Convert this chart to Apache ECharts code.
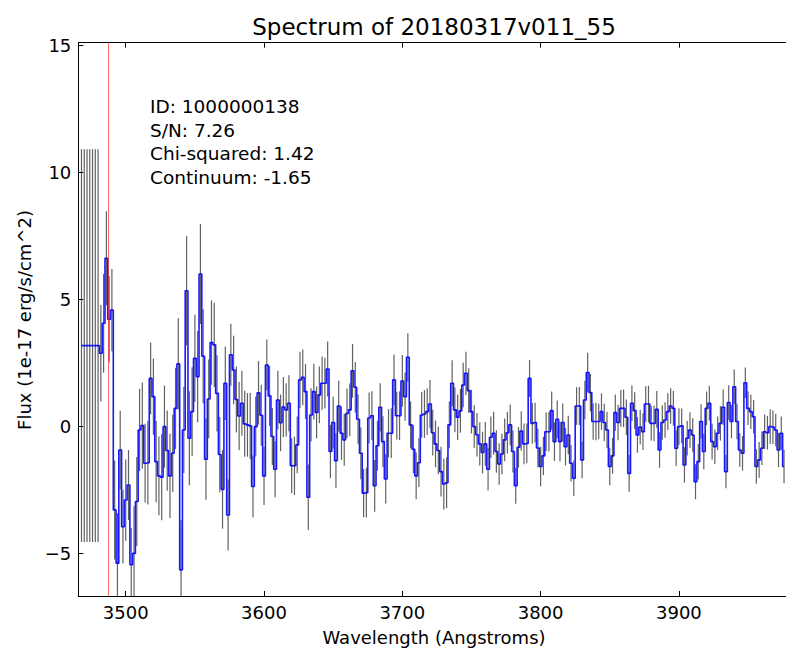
<!DOCTYPE html>
<html>
<head>
<meta charset="utf-8">
<title>Spectrum of 20180317v011_55</title>
<script src="https://cdn.jsdelivr.net/npm/echarts@6/dist/echarts.min.js"></script>
<style>
  html, body { margin: 0; padding: 0; background: #ffffff; }
  #chart { width: 786px; height: 652px; }
</style>
</head>
<body>
<div id="chart"></div>
<script>
// Wavelength grid of the extracted spectrum (Angstroms)
const WAVE_START = 3468;
const WAVE_STEP = 2;

// Flux density per bin (1e-17 erg/s/cm^2), rows of ten bins, first bin of each row noted
const flux = [
  /* 3468 */ 3.19, 3.19, 3.19, 3.19, 3.19, 3.19, 3.19, 2.89, 4.07, 6.63,
  /* 3488 */ 4.23, 4.59, -3.28, -5.38, -0.92, -3.94, -2.89, -2.30, -5.44, -4.99,
  /* 3508 */ -2.95, -0.13, 0.04, -1.44, -1.42, 1.90, 1.18, -1.38, -1.94, -1.99,
  /* 3528 */ 0.00, -0.94, -1.94, -1.05, 0.72, 2.47, -5.64, -0.13, 5.35, -0.46,
  /* 3548 */ 0.59, 2.69, 1.97, 6.01, 2.77, -1.28, 1.09, 3.31, 3.22, 1.31,
  /* 3568 */ -1.10, -2.47, 1.71, -3.48, 2.83, 2.23, 1.07, 0.42, 0.92, 0.11,
  /* 3588 */ 0.07, 0.03, -2.36, 0.00, 1.33, 0.45, -1.94, 2.43, 1.21, -0.39,
  /* 3608 */ -1.68, 1.05, 0.15, 0.77, 0.66, 0.92, -1.54, -1.54, -0.72, 1.84,
  /* 3628 */ 1.94, 1.38, -2.78, 0.46, 1.38, 0.56, 1.25, 1.71, 1.71, 2.27,
  /* 3648 */ -0.98, 0.16, -1.34, 0.81, -0.26, -0.52, 0.52, 0.66, 2.20, 1.55,
  /* 3668 */ 0.29, -1.05, -2.62, -2.60, 0.34, 0.43, -2.33, -0.75, 0.76, -0.59,
  /* 3688 */ -2.06, -0.26, -0.26, 1.84, 0.43, 0.43, 1.80, 1.18, 2.73, 0.07,
  /* 3708 */ -0.89, -1.94, -1.42, 0.46, 0.50, 0.59, 0.89, -0.24, -0.68, -0.94,
  /* 3728 */ -1.77, -2.26, -2.21, 0.07, 1.71, 0.66, 0.37, 0.62, 1.64, 2.10,
  /* 3748 */ 1.42, 0.59, 0.00, -0.32, -0.68, -1.02, -0.68, -1.68, -0.42, -0.26,
  /* 3768 */ -0.98, -1.47, -1.08, -0.52, -0.24, 0.07, -0.98, -2.33, -0.81, -0.17,
  /* 3788 */ -0.68, -0.66, 1.90, 0.13, 0.16, -0.84, -1.57, -1.15, -0.20, -0.20,
  /* 3808 */ 0.63, -0.59, 0.29, -0.59, 0.16, -0.79, -0.33, -1.44, -2.03, 0.81,
  /* 3828 */ 0.81, -1.31, 1.05, 2.13, 1.34, 0.20, 0.20, 0.20, 0.59, 0.16,
  /* 3848 */ -0.13, -1.57, -1.15, 0.55, 0.16, 0.72, 0.72, 0.37, -1.84, 0.92,
  /* 3868 */ 0.63, -0.33, -0.02, -0.20, 0.89, 0.89, 0.13, 0.13, 0.68, -0.92,
  /* 3888 */ 0.16, 0.26, 0.59, 0.81, 0.72, -0.85, 0.00, 0.03, -1.51, -0.46,
  /* 3908 */ -0.13, -0.33, -2.17, -1.38, 0.20, -0.98, 0.72, 0.92, -0.59, -0.79,
  /* 3928 */ -0.26, 0.13, 0.76, -1.77, 0.95, 0.20, 1.57, 0.20, -0.92, -1.05,
  /* 3948 */ 1.73, 0.72, 0.59, 0.39, -1.57, -1.31, -0.85, -0.20, -0.24, 0.00,
  /* 3968 */ -0.02, -0.13, -0.92, -0.26, -1.57
];

// One-sigma flux uncertainty per bin, same layout as flux
const fluxErr = [
  /* 3468 */ 7.73, 7.73, 7.73, 7.73, 7.73, 7.73, 7.73, 1.90, 1.95, 1.85,
  /* 3488 */ 1.70, 1.62, 1.95, 1.97, 1.55, 1.45, 1.60, 1.38, 1.45, 1.85,
  /* 3508 */ 1.75, 1.62, 1.70, 1.55, 1.65, 1.41, 1.50, 1.60, 1.55, 1.70,
  /* 3528 */ 1.62, 1.58, 1.66, 1.52, 1.60, 1.80, 1.95, 1.70, 2.15, 1.85,
  /* 3548 */ 1.75, 1.72, 1.80, 1.97, 1.85, 1.60, 1.55, 1.66, 1.66, 1.50,
  /* 3568 */ 1.48, 1.55, 1.45, 1.40, 1.22, 1.35, 1.30, 1.35, 1.28, 1.30,
  /* 3588 */ 1.25, 1.30, 1.22, 1.18, 1.25, 1.20, 1.15, 1.00, 1.18, 1.12,
  /* 3608 */ 1.10, 1.15, 1.12, 1.18, 1.05, 1.10, 1.08, 1.15, 1.12, 1.11,
  /* 3628 */ 1.10, 1.08, 1.29, 1.05, 1.10, 1.02, 1.12, 1.05, 1.00, 1.08,
  /* 3648 */ 1.05, 1.02, 1.08, 1.00, 1.05, 1.02, 0.98, 1.04, 1.06, 1.00,
  /* 3668 */ 0.98, 1.02, 0.95, 0.98, 1.00, 0.96, 1.02, 0.98, 0.95, 1.00,
  /* 3688 */ 0.97, 0.95, 0.98, 1.00, 0.94, 0.96, 1.02, 0.95, 0.95, 0.92,
  /* 3708 */ 0.95, 0.92, 0.96, 0.90, 0.94, 0.92, 0.95, 0.90, 0.92, 0.94,
  /* 3728 */ 0.98, 1.00, 1.00, 0.92, 0.90, 0.88, 0.90, 0.86, 0.88, 0.85,
  /* 3748 */ 0.88, 0.86, 0.84, 0.86, 0.85, 0.82, 0.86, 0.84, 0.82, 0.85,
  /* 3768 */ 0.84, 0.82, 0.80, 0.84, 0.82, 0.80, 0.83, 0.71, 0.80, 0.78,
  /* 3788 */ 0.80, 0.78, 0.73, 0.80, 0.78, 0.76, 0.78, 0.75, 0.76, 0.78,
  /* 3808 */ 0.75, 0.76, 0.74, 0.78, 0.75, 0.74, 0.76, 0.72, 0.70, 0.74,
  /* 3828 */ 0.75, 0.72, 0.76, 0.78, 0.74, 0.72, 0.74, 0.70, 0.72, 0.74,
  /* 3848 */ 0.72, 0.74, 0.70, 0.72, 0.70, 0.72, 0.74, 0.70, 0.72, 0.70,
  /* 3868 */ 0.72, 0.70, 0.68, 0.72, 0.70, 0.72, 0.68, 0.70, 0.72, 0.70,
  /* 3888 */ 0.68, 0.70, 0.72, 0.70, 0.68, 0.70, 0.72, 0.68, 0.70, 0.68,
  /* 3908 */ 0.70, 0.66, 0.69, 0.70, 0.68, 0.70, 0.66, 0.68, 0.70, 0.68,
  /* 3928 */ 0.66, 0.68, 0.70, 0.66, 0.68, 0.66, 0.68, 0.70, 0.66, 0.68,
  /* 3948 */ 0.60, 0.66, 0.68, 0.66, 0.68, 0.70, 0.66, 0.68, 0.66, 0.68,
  /* 3968 */ 0.66, 0.64, 0.68, 0.66, 0.66
];

// Detected line wavelength, marked with a vertical line
const lineWave = 3487.7;

// Axis ranges and tick values
const xRange = [3465.7, 3979.6];
const yRange = [-6.67, 15.12];
const xTicks = [3500, 3600, 3700, 3800, 3900];
const yTicks = [-5, 0, 5, 10, 15];

// Text block with the fit summary
const infoLines = [
  'ID: 1000000138',
  'S/N: 7.26',
  'Chi-squared: 1.42',
  'Continuum: -1.65'
];

const titleText = 'Spectrum of 20180317v011_55';
const xName = 'Wavelength (Angstroms)';
const yName = 'Flux (1e-17 erg/s/cm^2)';

// ---- build series data ----
const stepData = flux.map((f, i) => [WAVE_START + WAVE_STEP * i, f]);
const errData = flux.map((f, i) => [WAVE_START + WAVE_STEP * i, f - fluxErr[i], f + fluxErr[i]]);

const FONT = '"DejaVu Sans", "Liberation Sans", sans-serif';
// The plot frame runs past the right edge of the canvas, so only left/top/bottom spines show
const grid = { left: 78.3, top: 42.7, width: 710.7, height: 553.3, outerBoundsMode: 'none', containLabel: false };
const minusSign = v => String(v).replace('-', '\u2212');

function axisCommon(ticks, showLabel, margin) {
  return {
    axisLine: { show: true, onZero: false, lineStyle: { color: '#000', width: 1 } },
    axisTick: { show: true, inside: true, length: 5, customValues: ticks,
                lineStyle: { color: '#000', width: 1 } },
    axisLabel: { show: showLabel, customValues: ticks, color: '#000', fontSize: 18,
                 fontFamily: FONT, margin: margin, formatter: minusSign },
    splitLine: { show: false }
  };
}

const chart = echarts.init(document.getElementById('chart'), null, { renderer: 'svg' });

const infoGraphics = infoLines.map((t, k) => ({
  type: 'text', x: 150, y: 106.3 + 23.7 * k, silent: true,
  style: { text: t, fill: '#000', fontSize: 18.5, fontFamily: FONT,
           align: 'left', textAlign: 'left', verticalAlign: 'middle', textVerticalAlign: 'middle' }
}));

chart.setOption({
  backgroundColor: '#ffffff',
  animation: false,
  grid: grid,
  xAxis: [
    Object.assign({ type: 'value', position: 'bottom', min: xRange[0], max: xRange[1] },
                  axisCommon(xTicks, true, 7)),
    Object.assign({ type: 'value', position: 'top', min: xRange[0], max: xRange[1] },
                  axisCommon(xTicks, false, 7))
  ],
  yAxis: [
    Object.assign({ type: 'value', position: 'left', min: yRange[0], max: yRange[1] },
                  axisCommon(yTicks, true, 7))
  ],
  graphic: [
    { type: 'text', x: 434, y: 27, silent: true,
      style: { text: titleText, fill: '#000', fontSize: 23, fontFamily: FONT,
               align: 'center', textAlign: 'center', verticalAlign: 'middle', textVerticalAlign: 'middle' } },
    { type: 'text', x: 434, y: 637, silent: true,
      style: { text: xName, fill: '#000', fontSize: 18, fontFamily: FONT,
               align: 'center', textAlign: 'center', verticalAlign: 'middle', textVerticalAlign: 'middle' } },
    { type: 'text', x: 24, y: 320, rotation: Math.PI / 2, silent: true,
      style: { text: yName, fill: '#000', fontSize: 18, fontFamily: FONT,
               align: 'center', textAlign: 'center', verticalAlign: 'middle', textVerticalAlign: 'middle' } }
  ].concat(infoGraphics),
  series: [
    {
      name: 'error',
      type: 'custom',
      xAxisIndex: 0, yAxisIndex: 0,
      z: 2,
      silent: true,
      encode: { x: 0, y: [1, 2] },
      data: errData,
      renderItem: function (params, api) {
        const x = api.value(0);
        const lo = Math.max(api.value(1), yRange[0]);
        const hi = Math.min(api.value(2), yRange[1]);
        if (x < xRange[0] || x > xRange[1]) return null;
        const p1 = api.coord([x, lo]);
        const p2 = api.coord([x, hi]);
        return {
          type: 'line',
          shape: { x1: p1[0], y1: p1[1], x2: p2[0], y2: p2[1] },
          style: { stroke: 'rgba(0,0,0,0.62)', lineWidth: 1.2 }
        };
      }
    },
    {
      name: 'flux',
      type: 'line',
      xAxisIndex: 0, yAxisIndex: 0,
      z: 3,
      step: 'middle',
      showSymbol: false,
      symbol: 'none',
      silent: true,
      data: stepData,
      lineStyle: { color: '#0000ff', width: 1.6, opacity: 0.9 },
      markLine: {
        silent: true,
        symbol: ['none', 'none'],
        label: { show: false },
        lineStyle: { color: 'rgba(255,40,40,0.7)', width: 1, type: 'solid' },
        data: [{ xAxis: lineWave }]
      }
    }
  ]
});
</script>
</body>
</html>
